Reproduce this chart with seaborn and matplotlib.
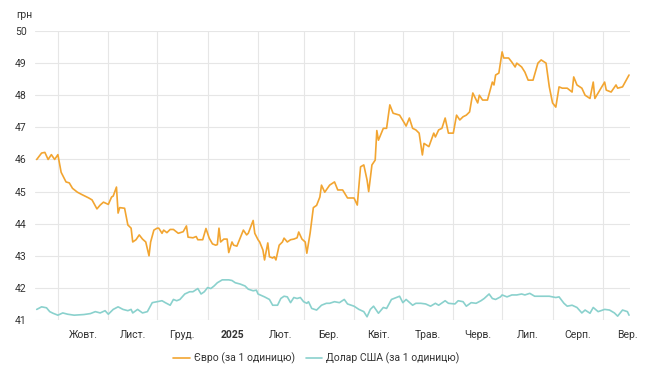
import pandas as pd
import matplotlib.pyplot as plt
import matplotlib.dates as mdates
import seaborn as sns

# Exchange rates, UAH per unit
eur_dates = [
    "2024-09-18", "2024-09-21", "2024-09-23", "2024-09-25", "2024-09-27", "2024-09-29",
    "2024-10-01", "2024-10-03", "2024-10-04", "2024-10-06", "2024-10-08", "2024-10-10",
    "2024-10-13", "2024-10-16", "2024-10-20", "2024-10-22", "2024-10-25", "2024-10-27",
    "2024-10-29", "2024-11-01", "2024-11-03", "2024-11-04", "2024-11-06", "2024-11-07",
    "2024-11-08", "2024-11-11", "2024-11-13", "2024-11-15", "2024-11-16", "2024-11-18",
    "2024-11-20", "2024-11-22", "2024-11-24", "2024-11-26", "2024-11-27", "2024-11-29",
    "2024-12-01", "2024-12-02", "2024-12-04", "2024-12-05", "2024-12-07", "2024-12-09",
    "2024-12-11", "2024-12-14", "2024-12-17", "2024-12-19", "2024-12-20", "2024-12-23",
    "2024-12-25", "2024-12-26", "2024-12-29", "2024-12-31", "2025-01-02", "2025-01-04",
    "2025-01-06", "2025-01-07", "2025-01-08", "2025-01-09", "2025-01-11", "2025-01-13",
    "2025-01-14", "2025-01-16", "2025-01-17", "2025-01-19", "2025-01-21", "2025-01-23",
    "2025-01-25", "2025-01-26", "2025-01-29", "2025-01-30", "2025-02-01", "2025-02-02",
    "2025-02-04", "2025-02-05", "2025-02-07", "2025-02-08", "2025-02-10", "2025-02-11",
    "2025-02-12", "2025-02-14", "2025-02-16", "2025-02-17", "2025-02-19", "2025-02-21",
    "2025-02-23", "2025-02-25", "2025-02-26", "2025-02-28", "2025-03-02", "2025-03-03",
    "2025-03-05", "2025-03-07", "2025-03-09", "2025-03-11", "2025-03-12", "2025-03-14",
    "2025-03-17", "2025-03-20", "2025-03-22", "2025-03-25", "2025-03-28", "2025-04-01",
    "2025-04-03", "2025-04-05", "2025-04-07", "2025-04-09", "2025-04-10", "2025-04-12",
    "2025-04-14", "2025-04-15", "2025-04-16", "2025-04-19", "2025-04-21", "2025-04-23",
    "2025-04-25", "2025-04-29", "2025-05-02", "2025-05-03", "2025-05-05", "2025-05-07",
    "2025-05-09", "2025-05-11", "2025-05-13", "2025-05-14", "2025-05-17", "2025-05-20",
    "2025-05-21", "2025-05-23", "2025-05-25", "2025-05-27", "2025-05-29", "2025-06-01",
    "2025-06-03", "2025-06-05", "2025-06-07", "2025-06-09", "2025-06-11", "2025-06-13",
    "2025-06-16", "2025-06-17", "2025-06-19", "2025-06-22", "2025-06-24", "2025-06-25",
    "2025-06-26", "2025-06-27", "2025-06-29", "2025-07-01", "2025-07-02", "2025-07-05",
    "2025-07-07", "2025-07-09", "2025-07-10", "2025-07-13", "2025-07-15", "2025-07-17",
    "2025-07-20", "2025-07-23", "2025-07-25", "2025-07-28", "2025-07-30", "2025-08-01",
    "2025-08-03", "2025-08-05", "2025-08-07", "2025-08-10", "2025-08-13", "2025-08-14",
    "2025-08-16", "2025-08-19", "2025-08-21", "2025-08-24", "2025-08-26", "2025-08-27",
    "2025-08-29", "2025-09-02", "2025-09-03", "2025-09-06", "2025-09-09", "2025-09-10",
    "2025-09-13", "2025-09-17",
]
eur_values = [
    46.0, 46.2, 46.22, 46.0, 46.15, 46.0,
    46.15, 45.6, 45.5, 45.3, 45.27, 45.1,
    44.98, 44.9, 44.8, 44.74, 44.46, 44.58,
    44.67, 44.6, 44.83, 44.86, 45.14, 44.33,
    44.5, 44.48, 43.96, 43.86, 43.43, 43.5,
    43.65, 43.52, 43.43, 43.0, 43.43, 43.8,
    43.86, 43.86, 43.7, 43.8, 43.72, 43.82,
    43.82, 43.7, 43.75, 43.93, 43.58, 43.56,
    43.6, 43.5, 43.5, 43.85, 43.55, 43.37,
    43.33, 43.35, 43.86, 43.43, 43.52, 43.52,
    43.1, 43.43, 43.33, 43.3, 43.55, 43.8,
    43.65, 43.7, 44.1, 43.7, 43.5, 43.43,
    43.18, 42.87, 43.4, 42.97, 42.93, 42.97,
    42.87, 43.33, 43.43, 43.55, 43.43, 43.5,
    43.52, 43.56, 43.74, 43.52, 43.43, 43.08,
    43.7, 44.5, 44.57, 44.83, 45.2, 44.98,
    45.2, 45.3, 45.05, 45.05, 44.8, 44.8,
    44.58, 45.77, 45.83, 45.36, 45.0, 45.83,
    45.98, 46.9, 46.6, 46.97, 46.97, 47.7,
    47.44, 47.38, 47.13, 47.04, 47.29, 46.97,
    46.92, 46.82, 46.14, 46.5, 46.4, 46.82,
    46.7, 46.92, 46.97, 47.29, 46.82, 46.82,
    47.38, 47.23, 47.33, 47.38, 47.48, 48.07,
    47.76, 48.0, 47.85, 47.85, 48.22, 48.41,
    48.32, 48.63, 48.69, 49.35, 49.16, 49.16,
    49.03, 48.88, 49.0, 48.88, 48.72, 48.47,
    48.47, 49.0, 49.1, 49.0, 48.26, 47.76,
    47.63, 48.26, 48.22, 48.22, 48.1, 48.57,
    48.32, 48.22, 48.0, 47.9, 48.41, 47.9,
    48.07, 48.41, 48.16, 48.1, 48.32, 48.22,
    48.26, 48.63,
]

usd_dates = [
    "2024-09-18", "2024-09-21", "2024-09-24", "2024-09-26", "2024-09-28", "2024-10-01",
    "2024-10-04", "2024-10-07", "2024-10-11", "2024-10-17", "2024-10-21", "2024-10-24",
    "2024-10-27", "2024-10-30", "2024-11-01", "2024-11-04", "2024-11-07", "2024-11-10",
    "2024-11-13", "2024-11-15", "2024-11-16", "2024-11-19", "2024-11-22", "2024-11-25",
    "2024-11-28", "2024-12-01", "2024-12-04", "2024-12-06", "2024-12-09", "2024-12-11",
    "2024-12-13", "2024-12-15", "2024-12-18", "2024-12-21", "2024-12-23", "2024-12-26",
    "2024-12-28", "2024-12-30", "2025-01-01", "2025-01-03", "2025-01-05", "2025-01-07",
    "2025-01-10", "2025-01-14", "2025-01-16", "2025-01-18", "2025-01-21", "2025-01-24",
    "2025-01-26", "2025-01-29", "2025-01-31", "2025-02-01", "2025-02-05", "2025-02-08",
    "2025-02-10", "2025-02-13", "2025-02-15", "2025-02-17", "2025-02-19", "2025-02-21",
    "2025-02-23", "2025-02-25", "2025-02-27", "2025-03-01", "2025-03-03", "2025-03-04",
    "2025-03-06", "2025-03-09", "2025-03-12", "2025-03-15", "2025-03-17", "2025-03-20",
    "2025-03-23", "2025-03-26", "2025-03-28", "2025-04-01", "2025-04-04", "2025-04-07",
    "2025-04-09", "2025-04-11", "2025-04-13", "2025-04-16", "2025-04-19", "2025-04-21",
    "2025-04-24", "2025-04-27", "2025-04-29", "2025-05-01", "2025-05-03", "2025-05-07",
    "2025-05-09", "2025-05-12", "2025-05-15", "2025-05-18", "2025-05-21", "2025-05-23",
    "2025-05-27", "2025-05-29", "2025-06-02", "2025-06-04", "2025-06-07", "2025-06-09",
    "2025-06-12", "2025-06-15", "2025-06-18", "2025-06-20", "2025-06-23", "2025-06-25",
    "2025-06-27", "2025-06-30", "2025-07-01", "2025-07-04", "2025-07-07", "2025-07-10",
    "2025-07-13", "2025-07-15", "2025-07-18", "2025-07-21", "2025-07-25", "2025-07-30",
    "2025-08-03", "2025-08-05", "2025-08-08", "2025-08-10", "2025-08-13", "2025-08-16",
    "2025-08-19", "2025-08-21", "2025-08-24", "2025-08-26", "2025-08-29", "2025-09-02",
    "2025-09-05", "2025-09-08", "2025-09-10", "2025-09-13", "2025-09-16", "2025-09-17",
]
usd_values = [
    41.33, 41.41, 41.38, 41.26, 41.21, 41.15,
    41.22, 41.18, 41.15, 41.17, 41.2, 41.26,
    41.22, 41.29, 41.18, 41.33, 41.41, 41.33,
    41.29, 41.33, 41.22, 41.33, 41.22, 41.26,
    41.54, 41.57, 41.6, 41.54, 41.46, 41.64,
    41.6, 41.64, 41.81, 41.88, 41.88, 41.98,
    41.81, 41.88, 42.01, 41.98, 42.06, 42.16,
    42.25, 42.25, 42.23, 42.16, 42.12, 42.06,
    41.96, 41.91, 41.93, 41.81, 41.72, 41.64,
    41.46, 41.46, 41.67, 41.74, 41.72, 41.54,
    41.7, 41.67, 41.7, 41.57, 41.52, 41.57,
    41.36, 41.31, 41.46, 41.52, 41.52, 41.57,
    41.54, 41.64, 41.5, 41.43, 41.33, 41.26,
    41.1, 41.33, 41.43, 41.21, 41.39, 41.36,
    41.64, 41.7, 41.74, 41.54, 41.64, 41.46,
    41.52, 41.52, 41.5, 41.43, 41.52, 41.46,
    41.6, 41.52, 41.5, 41.6, 41.57, 41.43,
    41.54, 41.52, 41.6, 41.67, 41.81, 41.67,
    41.64, 41.72, 41.78, 41.72, 41.78, 41.78,
    41.81, 41.78, 41.83, 41.74, 41.74, 41.74,
    41.7, 41.72, 41.52, 41.43, 41.46, 41.39,
    41.22, 41.31, 41.21, 41.39, 41.26, 41.33,
    41.31, 41.22, 41.12, 41.31, 41.26, 41.15,
]

series_names = ["Євро (за 1 одиницю)", "Долар США (за 1 одиницю)"]
series_colors = ["#F2A531", "#8AD1CD"]

month_labels = ["Жовт.", "Лист.", "Груд.", "2025", "Лют.", "Бер.",
                "Квіт.", "Трав.", "Черв.", "Лип.", "Серп.", "Вер."]

# long table for seaborn
df = pd.concat([
    pd.DataFrame({"date": pd.to_datetime(eur_dates), "rate": eur_values, "series": series_names[0]}),
    pd.DataFrame({"date": pd.to_datetime(usd_dates), "rate": usd_values, "series": series_names[1]}),
])

sns.set_style("white")
plt.rcParams["font.family"] = ["Roboto", "DejaVu Sans"]

fig = plt.figure(figsize=(6.5, 3.83), dpi=100)
ax = fig.add_axes([0.054, 0.1645, 0.915, 0.7545])

sns.lineplot(data=df, x="date", y="rate", hue="series", palette=series_colors,
             linewidth=1.2, ax=ax, legend=False)

ax.set_xlim(pd.Timestamp("2024-09-17"), pd.Timestamp("2025-09-17 12:00"))
ax.set_ylim(41, 50)
ax.set_yticks(range(41, 51))
ax.set_xlabel("")
ax.set_ylabel("")

# gridlines at month starts, labels centred in the month
month_starts = pd.date_range("2024-10-01", "2025-10-01", freq="MS")
ax.set_xticks(month_starts[:-1])
ax.set_xticklabels([])
mids = [month_starts[i] + (month_starts[i + 1] - month_starts[i]) / 2
        for i in range(len(month_starts) - 1)]
ax.set_xticks(mids, minor=True)
ax.set_xticklabels(month_labels, minor=True)
for lbl in ax.get_xticklabels(minor=True):
    if lbl.get_text() == "2025":
        lbl.set_fontweight("bold")

ax.grid(True, which="major", color="#e6e6e6", linewidth=0.8)
ax.tick_params(axis="both", which="both", length=0, labelsize=7.5, colors="#333333")
ax.tick_params(axis="x", which="minor", pad=7)
ax.tick_params(axis="y", pad=6)
for s in ax.spines.values():
    s.set_visible(False)

fig.text(16 / 650, 1 - 15 / 383, "грн", fontsize=7.5, color="#333333", va="center", ha="left")

handles = [plt.Line2D([], [], color=c, linewidth=1.2) for c in series_colors]
fig.legend(handles, series_names, loc="center", bbox_to_anchor=(0.487, 0.065), ncol=2,
           frameon=False, fontsize=7.5, handlelength=1.6, handletextpad=0.4,
           columnspacing=1.0, labelcolor="#333333")

plt.savefig("out.png", dpi=100)
